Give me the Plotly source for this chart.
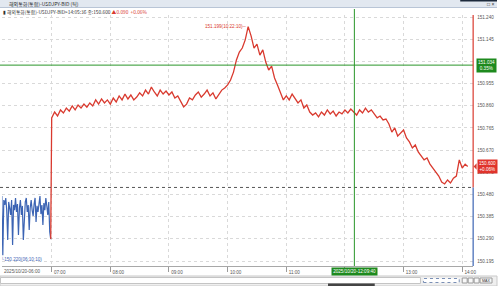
import plotly.graph_objects as go
import pandas as pd

W, H = 500, 286

# ---------------- data ----------------
blue_start = "2025-10-20 06:09"
blue_values = [150.473, 150.220, 150.456, 150.435, 150.465, 150.413, 150.285, 150.448, 150.422, 150.392,
               150.456, 150.264, 150.435, 150.413, 150.465, 150.405, 150.439, 150.306, 150.422, 150.456,
               150.392, 150.431, 150.285, 150.413, 150.448, 150.465, 150.405, 150.435, 150.328, 150.422,
               150.456, 150.413, 150.388, 150.439, 150.465, 150.362, 150.431, 150.405, 150.456, 150.473,
               150.396, 150.435, 150.349, 150.443, 150.413, 150.465, 150.431, 150.392, 150.448, 150.319,
               150.289]

red_start = "2025-10-20 07:00"
red_values = [
    150.808, 150.833, 150.816, 150.842, 150.829, 150.850, 150.837, 150.859, 150.842, 150.863,
    150.850, 150.867, 150.854, 150.872, 150.859, 150.885, 150.867, 150.889, 150.872, 150.885,
    150.867, 150.893, 150.876, 150.902, 150.885, 150.910, 150.889, 150.906, 150.885, 150.897,
    150.915, 150.902, 150.927, 150.910, 150.940, 150.919, 150.902, 150.927, 150.910, 150.923,
    150.906, 150.919, 150.893, 150.902, 150.876, 150.855, 150.867, 150.893, 150.885, 150.906,
    150.919, 150.897, 150.910, 150.927, 150.902, 150.915, 150.889, 150.906, 150.927, 150.936,
    150.949, 150.970, 151.004, 151.056, 151.090, 151.107, 151.142, 151.199, 151.159, 151.107,
    151.124, 151.077, 151.099, 151.047, 151.013, 151.030, 150.979, 150.949, 150.919, 150.885,
    150.902, 150.885, 150.910, 150.893, 150.872, 150.885, 150.850, 150.863, 150.833, 150.820,
    150.829, 150.812, 150.833, 150.820, 150.842, 150.825, 150.837, 150.816, 150.833, 150.825,
    150.842, 150.829, 150.846, 150.833, 150.820, 150.842, 150.829, 150.850, 150.833, 150.842,
    150.825, 150.808, 150.816, 150.799, 150.803, 150.782, 150.747, 150.765, 150.730, 150.743,
    150.756, 150.722, 150.705, 150.679, 150.692, 150.662, 150.645, 150.628, 150.636, 150.610,
    150.593, 150.576, 150.559, 150.533, 150.525, 150.542, 150.529, 150.550, 150.559, 150.628,
    150.593, 150.610,
]
last_time = "2025-10-20 14:05:36"
last_value = 150.600

prev_close = 150.510
cross_time = "2025-10-20 12:09:40"
cross_price = 151.034

y_tick_labels = ["150.195", "150.290", "150.385", "150.480", "150.575", "150.670",
                 "150.765", "150.860", "150.955", "151.050", "151.145", "151.240"]
x_tick_times = ["2025-10-20 07:00", "2025-10-20 08:00", "2025-10-20 09:00", "2025-10-20 10:00",
                "2025-10-20 11:00", "2025-10-20 12:00", "2025-10-20 13:00", "2025-10-20 14:00"]
x_tick_labels = ["07:00", "08:00", "09:00", "10:00", "11:00", "", "13:00", "14:00"]
first_x_label = "2025/10/20-06:00"

title_text = "해외통화(통합)-USDJPY-BID (틱)"
info_text = "▮ 해외통화(통합)-USDJPY-BID>14:05:36 종:150.600 "
info_change = "▲0.090  +0.06%"
peak_label = "151.199(10:22:10)─"
low_label = "└150.220(06:10:10)"
cross_x_label = "2025/10/20-12:09:40"
cross_y_label = "151.034<br>0.35%"
last_label = "150.600<br>+0.06%"

# ---------------- build ----------------
blue_times = list(pd.date_range(blue_start, periods=len(blue_values), freq="1min"))
red_times = list(pd.date_range(red_start, periods=len(red_values), freq="3min"))
red_x = [blue_times[-1]] + red_times + [pd.Timestamp(last_time)]
red_y = [blue_values[-1]] + red_values + [last_value]

RED = "#d93a2f"
BLUE = "#3c64b4"
GREEN = "#2a962a"
FONT = "Liberation Sans, Arial, sans-serif"
KFONT = "Noto Sans CJK KR, Liberation Sans, sans-serif"
FS = 4.6

def px(x):
    return x / W

def py(y):
    return 1 - y / H

PLOT_L, PLOT_R, PLOT_T, PLOT_B = 2, 476, 15, 266
X0 = pd.Timestamp("2025-10-20 06:09:09")
X1 = pd.Timestamp("2025-10-20 14:11:11")
Y0, Y1 = 150.1736, 151.2486

fig = go.Figure()
fig.add_trace(go.Scatter(x=blue_times, y=blue_values, mode="lines",
                         line=dict(color=BLUE, width=1.2), hoverinfo="skip", showlegend=False))
fig.add_trace(go.Scatter(x=red_x, y=red_y, mode="lines",
                         line=dict(color=RED, width=1.3), hoverinfo="skip", showlegend=False))

shapes = []
# header bar
shapes.append(dict(type="rect", xref="paper", yref="paper", x0=0, x1=1, y0=py(7.5), y1=1,
                   fillcolor="#e2e8f0", line=dict(width=0), layer="below"))
shapes.append(dict(type="line", xref="paper", yref="paper", x0=0, x1=1, y0=py(7.5), y1=py(7.5),
                   line=dict(color="#b9c5d6", width=1)))
shapes.append(dict(type="rect", xref="paper", yref="paper", x0=px(463), x1=1, y0=py(1.5), y1=1,
                   fillcolor="#1d2a3c", line=dict(width=0)))
# previous close dotted
shapes.append(dict(type="line", xref="paper", yref="y", x0=0, x1=px(PLOT_R), y0=prev_close, y1=prev_close,
                   line=dict(color="#555555", width=1, dash="dot")))
# crosshair
shapes.append(dict(type="line", xref="paper", yref="y", x0=0, x1=px(PLOT_R), y0=cross_price, y1=cross_price,
                   line=dict(color=GREEN, width=1)))
shapes.append(dict(type="line", xref="x", yref="paper", x0=cross_time, x1=cross_time,
                   y0=py(PLOT_B), y1=py(PLOT_T - 6), line=dict(color=GREEN, width=1)))
# right price axis line (red above prev close, blue below)
shapes.append(dict(type="line", xref="paper", yref="y", x0=px(PLOT_R), x1=px(PLOT_R), y0=prev_close, y1=Y1 + 0.03,
                   line=dict(color=RED, width=1.2)))
shapes.append(dict(type="line", xref="paper", yref="y", x0=px(PLOT_R), x1=px(PLOT_R), y0=Y0, y1=prev_close,
                   line=dict(color=BLUE, width=1.2)))
# arrow for last price box
shapes.append(dict(type="path", xref="paper", yref="y",
                   path=f"M {px(476.5)} {last_value} L {px(479.5)} {last_value + 0.014} L {px(479.5)} {last_value - 0.014} Z",
                   fillcolor=RED, line=dict(width=0)))
# bottom scroll area
shapes.append(dict(type="rect", xref="paper", yref="paper", x0=0, x1=1, y0=0, y1=py(276),
                   fillcolor="#efefef", line=dict(color="#c9c9c9", width=1)))
shapes.append(dict(type="rect", xref="paper", yref="paper", x0=px(0.5), x1=px(423), y0=py(283.5), y1=py(277.5),
                   fillcolor="#ffffff", line=dict(color="#c4c4c4", width=1)))
shapes.append(dict(type="rect", xref="paper", yref="paper", x0=px(330), x1=px(377), y0=0, y1=py(283.5),
                   fillcolor="#444444", line=dict(width=0)))
shapes.append(dict(type="rect", xref="paper", yref="paper", x0=px(426), x1=px(462), y0=py(282.5), y1=py(278.5),
                   fillcolor="#ffffff", line=dict(color="#7a8fb5", width=1, dash="dot")))
for bx in (465, 471, 477):
    shapes.append(dict(type="rect", xref="paper", yref="paper", x0=px(bx), x1=px(bx + 5), y0=py(283), y1=py(278),
                       fillcolor="#f8f8f8", line=dict(color="#9a9a9a", width=1)))
shapes.append(dict(type="rect", xref="paper", yref="paper", x0=px(483), x1=px(495), y0=py(283), y1=py(278),
                   fillcolor="#f8f8f8", line=dict(color="#9a9a9a", width=1)))

annotations = []
annotations.append(dict(text=title_text, xref="paper", yref="paper", x=px(7), y=py(3.8),
                        xanchor="left", yanchor="middle", showarrow=False,
                        font=dict(family=KFONT, size=5, color="#2b2b2b")))
annotations.append(dict(text=info_text + f"<span style='color:{RED}'>{info_change}</span>",
                        xref="paper", yref="paper", x=px(1), y=py(11.5),
                        xanchor="left", yanchor="middle", showarrow=False,
                        font=dict(family=KFONT, size=4.8, color="#333333")))
annotations.append(dict(text="□ ×", xref="paper", yref="paper", x=px(499), y=py(4.2),
                        xanchor="right", yanchor="middle", showarrow=False,
                        font=dict(family=FONT, size=5, color="#333333")))
# peak & low labels from the data
peak_i = max(range(len(red_values)), key=lambda i: red_values[i])
annotations.append(dict(text=peak_label, x=red_times[peak_i], y=red_values[peak_i], xref="x", yref="y",
                        xanchor="right", yanchor="middle", showarrow=False, xshift=1,
                        font=dict(family=FONT, size=FS, color=RED)))
low_i = min(range(len(blue_values)), key=lambda i: blue_values[i])
annotations.append(dict(text=low_label, x=blue_times[low_i], y=blue_values[low_i], xref="x", yref="y",
                        xanchor="left", yanchor="middle", showarrow=False, xshift=-4, yshift=-4,
                        font=dict(family=FONT, size=FS, color=BLUE)))
# first x label
annotations.append(dict(text=first_x_label, xref="paper", yref="paper", x=px(2), y=py(271.5),
                        xanchor="left", yanchor="middle", showarrow=False,
                        font=dict(family=FONT, size=FS, color="#555555")))
# crosshair labels
annotations.append(dict(text=cross_x_label, x=cross_time, xref="x", yref="paper", y=py(271.5),
                        xanchor="center", yanchor="middle", showarrow=False, bgcolor="#1e8a1e",
                        borderpad=1.2, font=dict(family=FONT, size=FS, color="#ffffff")))
annotations.append(dict(text=cross_y_label, xref="paper", x=px(478.5), y=cross_price, yref="y",
                        xanchor="left", yanchor="middle", showarrow=False, bgcolor="#1e8a1e",
                        borderpad=1, font=dict(family=FONT, size=FS, color="#ffffff")))
annotations.append(dict(text=last_label, xref="paper", x=px(479.5), y=last_value, yref="y",
                        xanchor="left", yanchor="middle", showarrow=False, bgcolor="#e0332b",
                        borderpad=1, font=dict(family=FONT, size=FS, color="#ffffff")))
annotations.append(dict(text="MAX", xref="paper", yref="paper", x=px(489), y=py(280.5),
                        xanchor="center", yanchor="middle", showarrow=False,
                        font=dict(family=FONT, size=3.6, color="#333333")))

fig.update_layout(
    width=W, height=H,
    margin=dict(l=0, r=0, t=0, b=0),
    paper_bgcolor="#ffffff", plot_bgcolor="#ffffff",
    showlegend=False,
    shapes=shapes, annotations=annotations,
    xaxis=dict(domain=[px(PLOT_L), px(PLOT_R)], range=[X0, X1],
               tickvals=x_tick_times, ticktext=x_tick_labels,
               ticks="outside", ticklen=5, tickcolor="#9a9a9a",
               tickfont=dict(family=FONT, size=FS, color="#555555"),
               ticklabelshift=8, ticklabelstandoff=-4,
               showgrid=True, gridcolor="#d9d9d9", griddash="dot", gridwidth=1,
               showline=True, linecolor="#a8a8a8", linewidth=1, zeroline=False, fixedrange=True),
    yaxis=dict(domain=[py(PLOT_B), py(PLOT_T)], range=[Y0, Y1],
               side="right", anchor="free", position=px(PLOT_R),
               tickvals=[float(t) for t in y_tick_labels], ticktext=y_tick_labels,
               ticks="", ticklabelstandoff=3,
               tickfont=dict(family=FONT, size=FS, color="#555555"),
               showgrid=True, gridcolor="#d9d9d9", griddash="dot", gridwidth=1,
               showline=False, zeroline=False, fixedrange=True),
)

fig.write_html("out.html")
